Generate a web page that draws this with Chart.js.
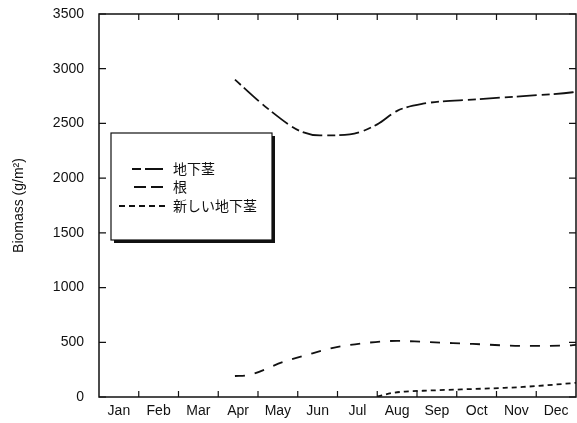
<!DOCTYPE html>
<html>
<head>
<meta charset="utf-8">
<script src="https://cdn.jsdelivr.net/npm/chart.js@4/dist/chart.umd.min.js"></script>
<style>
  html, body { margin:0; padding:0; background:#fff; }
  #wrap { width:577px; height:423px; }
</style>
</head>
<body>
<div id="wrap"><canvas id="c" width="577" height="423"></canvas></div>
<script>
// ── Data ──────────────────────────────────────────────
const MONTHS  = ['Jan','Feb','Mar','Apr','May','Jun','Jul','Aug','Sep','Oct','Nov','Dec'];
const Y_TICKS = [0, 500, 1000, 1500, 2000, 2500, 3000, 3500];

// x in months from start of Jan (0..12)
const RHIZOME_X = [3.42, 4.23, 5.06, 5.56, 6.31, 7.0, 7.5, 8.15, 9.5, 10.67, 11.92, 12];
const RHIZOME_Y = [2900, 2640, 2430, 2390, 2400, 2491, 2615, 2680, 2720, 2750, 2785, 2790];

const ROOT_X = [3.42, 3.75, 4.63, 5.23, 5.89, 6.74, 7.5, 8.15, 9.4, 10.67, 11.77, 12];
const ROOT_Y = [192, 200, 320, 385, 449, 495, 513, 504, 485, 467, 470, 476];

const NEW_X = [7.0, 7.35, 7.7, 8.15, 9.4, 10.09, 10.67, 11.85, 12];
const NEW_Y = [5, 35, 50, 57, 73, 82, 92, 125, 130];

const LABELS = ['地下茎', '根', '新しい地下茎'];

const pts = (xs, ys) => xs.map((x, i) => ({ x, y: ys[i] }));
const INK = '#111';
const FONT = '"Liberation Sans", Arial, sans-serif';

// ── Plugins ───────────────────────────────────────────
// frame box with inward tick marks on all four sides
const frameTicks = {
  id: 'frameTicks',
  afterDraw(chart) {
    const { ctx, chartArea: a, scales: { x, y } } = chart;
    ctx.save();
    ctx.strokeStyle = INK;
    ctx.lineWidth = 1.5;
    ctx.strokeRect(a.left, a.top, a.right - a.left, a.bottom - a.top);
    ctx.lineWidth = 1.2;
    ctx.beginPath();
    for (let m = 1; m < 12; m++) {
      const px = x.getPixelForValue(m);
      ctx.moveTo(px, a.bottom); ctx.lineTo(px, a.bottom - 6);
      ctx.moveTo(px, a.top);    ctx.lineTo(px, a.top + 6);
    }
    Y_TICKS.forEach(v => {
      const py = y.getPixelForValue(v);
      ctx.moveTo(a.left, py);  ctx.lineTo(a.left + 7, py);
      ctx.moveTo(a.right, py); ctx.lineTo(a.right - 7, py);
    });
    ctx.stroke();
    ctx.restore();
  }
};

// boxed legend inside the plot, with drop shadow
const boxLegend = {
  id: 'boxLegend',
  afterDraw(chart, args, o) {
    const { ctx } = chart;
    ctx.save();
    ctx.fillStyle = INK;
    ctx.fillRect(o.x + 3, o.y + 3, o.w, o.h);
    ctx.fillStyle = '#fff';
    ctx.fillRect(o.x, o.y, o.w, o.h);
    ctx.strokeStyle = INK;
    ctx.lineWidth = 1.2;
    ctx.strokeRect(o.x, o.y, o.w, o.h);
    ctx.font = '14px "Noto Sans CJK JP", "Noto Sans", sans-serif';
    ctx.textBaseline = 'middle';
    chart.data.datasets.forEach((ds, i) => {
      const it = o.items[i];
      ctx.strokeStyle = ds.borderColor;
      ctx.lineWidth = ds.borderWidth;
      ctx.setLineDash(o.dashes[i]);
      ctx.beginPath();
      ctx.moveTo(it.x0, it.y); ctx.lineTo(it.x1, it.y);
      ctx.stroke();
      ctx.setLineDash([]);
      ctx.fillStyle = INK;
      ctx.fillText(ds.label, o.textX, it.y);
    });
    ctx.restore();
  }
};

// ── Chart ─────────────────────────────────────────────
const line = (label, data, dash) => ({
  label, data, borderColor: INK, borderWidth: 1.8, borderDash: dash,
  pointRadius: 0, fill: false, cubicInterpolationMode: 'monotone'
});

new Chart(document.getElementById('c'), {
  type: 'line',
  data: {
    datasets: [
      line(LABELS[0], pts(RHIZOME_X, RHIZOME_Y), [8, 4, 20, 5]),
      line(LABELS[1], pts(ROOT_X, ROOT_Y), [10, 10]),
      line(LABELS[2], pts(NEW_X, NEW_Y), [5, 4]),
    ]
  },
  options: {
    responsive: false,
    animation: false,
    layout: { padding: { top: 14, right: 1, left: 0, bottom: 0 } },
    plugins: {
      legend: { display: false },
      tooltip: { enabled: false },
      boxLegend: {
        x: 111, y: 133, w: 161, h: 107, textX: 173,
        dashes: [[9, 4, 18, 10], [12, 5], [6, 4]],
        items: [ { x0: 132, x1: 163, y: 169 }, { x0: 134, x1: 163, y: 187 }, { x0: 119, x1: 168, y: 206 } ]
      }
    },
    scales: {
      x: {
        type: 'linear', min: 0, max: 12,
        afterBuildTicks: s => { s.ticks = MONTHS.map((m, i) => ({ value: i + 0.5 })); },
        afterFit: s => { s.height = 26; s.paddingLeft = 0; s.paddingRight = 0; },
        grid: { display: false, drawTicks: false },
        border: { display: false },
        ticks: {
          autoSkip: false, maxRotation: 0, padding: 6, color: INK,
          font: { family: FONT, size: 14 },
          callback: (v, i) => MONTHS[i]
        }
      },
      y: {
        min: 0, max: 3500,
        afterBuildTicks: s => { s.ticks = Y_TICKS.map(v => ({ value: v })); },
        afterFit: s => { s.width = 99; s.paddingTop = 0; s.paddingBottom = 0; },
        grid: { display: false, drawTicks: false },
        border: { display: false },
        ticks: {
          padding: 15, color: INK,
          font: { family: FONT, size: 14 },
          callback: v => String(v)
        },
        title: {
          display: true, text: 'Biomass (g/m²)', color: INK, padding: { top: 11 },
          font: { family: FONT, size: 14 }
        }
      }
    }
  },
  plugins: [frameTicks, boxLegend]
});
</script>
</body>
</html>
